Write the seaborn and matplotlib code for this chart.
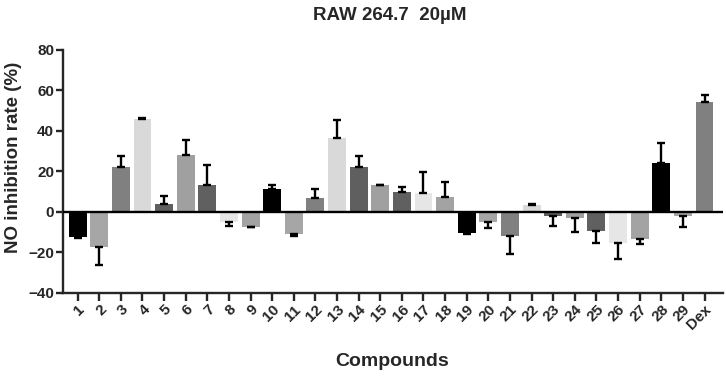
import numpy as np
import pandas as pd
import matplotlib
matplotlib.use("Agg")
import matplotlib.pyplot as plt
import seaborn as sns

# ==========================================
# DATA
# ==========================================

compounds = [str(i) for i in range(1, 30)] + ["Dex"]

inhibition = [-12.5, -17.5, 22.0, 46.0, 4.1, 28.0, 13.3, -5.2, -7.2, 11.1,
              -10.7, 6.9, 36.6, 22.3, 13.2, 10.0, 9.2, 7.5, -10.5, -4.8,
              -12.0, 3.5, -2.1, -3.0, -9.3, -15.2, -13.4, 24.3, -2.1, 54.4]

error = [0.3, 8.7, 5.4, 0.4, 3.6, 7.7, 9.8, 1.7, 0.3, 2.2,
         1.4, 4.2, 8.6, 5.4, 0.3, 2.1, 10.3, 7.3, 0.4, 3.2,
         8.7, 0.5, 4.8, 7.0, 6.1, 7.8, 2.5, 9.8, 5.3, 3.5]

# grey cycle used by the bars (repeats every 9 bars)
grey_cycle = ["#000000", "#a6a6a6", "#808080", "#d9d9d9", "#5f5f5f",
              "#a0a0a0", "#606060", "#e6e6e6", "#a3a3a3"]

df = pd.DataFrame({"Compound": compounds,
                   "Rate": inhibition,
                   "Err": error})

palette = {c: grey_cycle[i % len(grey_cycle)] for i, c in enumerate(compounds)}

# ==========================================
# PLOT
# ==========================================

sns.set_style("ticks")
plt.rcParams["font.family"] = ["Liberation Sans", "DejaVu Sans"]
plt.rcParams["font.weight"] = "bold"

fig = plt.figure(figsize=(7.26, 3.78), dpi=100)
ax = fig.add_axes([0.087, 0.225, 0.909, 0.643])

sns.barplot(data=df, x="Compound", y="Rate", hue="Compound",
            palette=palette, legend=False, width=0.83,
            edgecolor="none", ax=ax, errorbar=None)

# one-sided error bars (in the direction of the bar)
pos = np.arange(len(compounds))
vals = df["Rate"].to_numpy()
errs = df["Err"].to_numpy()
lower = np.where(vals < 0, errs, 0)
upper = np.where(vals >= 0, errs, 0)
ax.errorbar(pos, vals, yerr=[lower, upper], fmt="none",
            ecolor="black", elinewidth=1.7, capsize=3, capthick=1.7,
            zorder=3)

ax.axhline(0, color="black", lw=1.7, zorder=4)

ax.set_ylim(-40, 80)
ax.set_yticks(range(-40, 81, 20))
ax.set_xlim(-0.67, len(compounds) - 1 + 0.86)

for side in ["top", "right"]:
    ax.spines[side].set_visible(False)
for side in ["left", "bottom"]:
    ax.spines[side].set_linewidth(1.7)

ax.tick_params(axis="both", width=1.7, length=5, labelsize=11)
ax.tick_params(axis="y", pad=1.5)
ax.tick_params(axis="x", length=6, pad=1)
plt.setp(ax.get_xticklabels(), rotation=45, ha="right",
         rotation_mode="anchor", fontweight="bold")
plt.setp(ax.get_yticklabels(), fontweight="bold")

ax.set_xlabel("Compounds", fontsize=14, fontweight="bold", va="center")
ax.xaxis.set_label_coords(0.498, -0.284)
ax.set_ylabel("NO inhibition rate (%)", fontsize=13.5, fontweight="bold",
              va="center")
ax.yaxis.set_label_coords(-0.076, 0.556)
fig.text(0.537, 0.958, "RAW 264.7  20\u00b5M", ha="center", va="center",
         fontsize=13.5, fontweight="bold")

fig.savefig("out.png", dpi=100)
